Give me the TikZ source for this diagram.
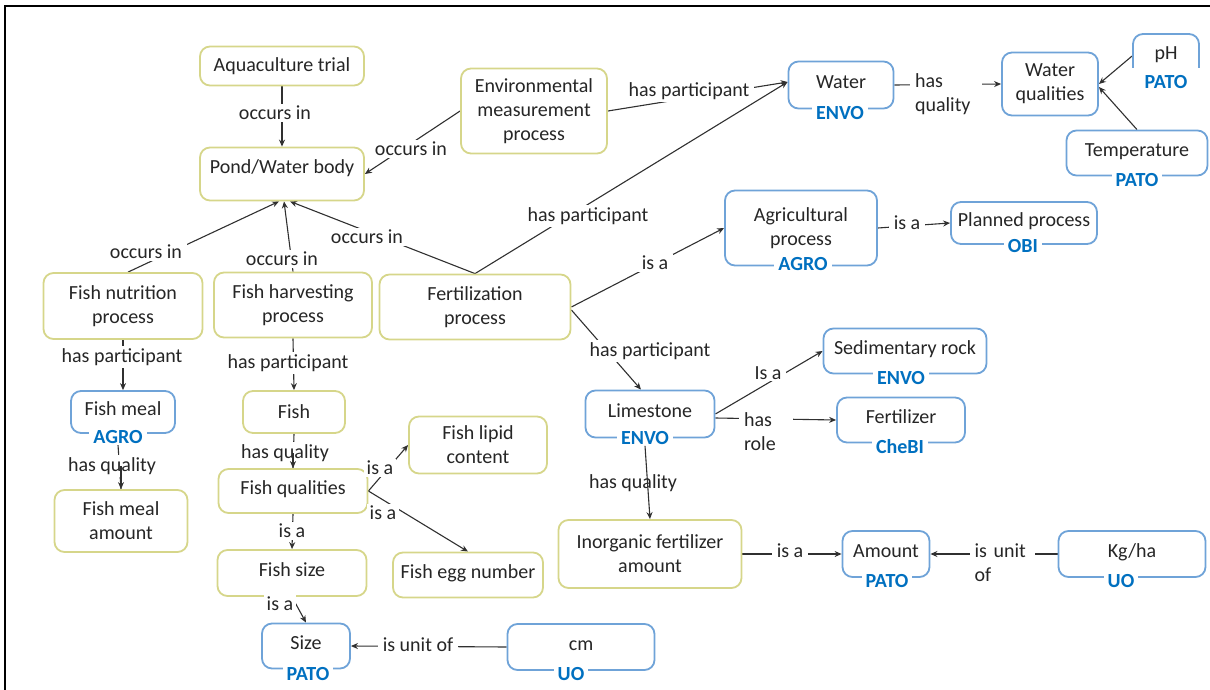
\documentclass[tikz,border=0pt]{standalone}
\usepackage{fontspec}
\setmainfont{Carlito}
\usetikzlibrary{arrows.meta}
\definecolor{boxyellow}{HTML}{D6D68A}
\definecolor{boxblue}{HTML}{6FA3D8}
\definecolor{tagblue}{HTML}{0070C0}
\definecolor{ink}{HTML}{262626}
\definecolor{wire}{HTML}{303030}
\pgfdeclarelayer{background}
\pgfsetlayers{background,main}

\begin{document}
\begin{tikzpicture}[x=1pt,y=-1pt,
  font=\fontsize{20}{24}\selectfont, text=ink,
  conceptbox/.style={draw=boxyellow, line width=1.8pt, rounded corners=10pt,
    fill=white, align=center, inner sep=0pt},
  ontobox/.style={conceptbox, draw=boxblue},
  raised/.style={text height=13pt, text depth=6pt},
  tag/.style={fill=white, text=tagblue, font=\fontsize{20}{24}\selectfont\bfseries,
    inner xsep=4pt, inner ysep=1pt},
  rel/.style={fill=white, inner xsep=5pt, inner ysep=2pt, align=center},
  link/.style={draw=wire, line width=1.1pt},
  arr/.style={link, -{Stealth[length=7pt,width=6pt]}},
]
\useasboundingbox (0,0) rectangle (1210,690);

% frame
\draw[line width=1.6pt] (5,690) -- (5,6) -- (1210,6);

% ---------- concepts ----------
\node[conceptbox, minimum width=164pt, minimum height=39pt] (aq) at (282,66) {Aquaculture trial};
\node[conceptbox, minimum width=164pt, minimum height=53pt, text height=14pt, text depth=16pt] (pond) at (282,174) {Pond/Water body};
\node[conceptbox, minimum width=146pt, minimum height=85pt] (env) at (534,111) {Environmental\\measurement\\process};

\node[ontobox, raised, minimum width=105pt, minimum height=47pt] (water) at (841,85) {Water};
\node[tag] (waterT) at (840,113) {ENVO};
\node[ontobox, minimum width=96pt, minimum height=63pt] (wq) at (1050,84) {Water\\qualities};
\node[ontobox, raised, minimum width=66pt, minimum height=44pt] (ph) at (1166,56) {pH};
\node[tag, minimum width=72pt, minimum height=28pt] (phT) at (1166,82) {PATO};
\node[ontobox, raised, minimum width=141pt, minimum height=45pt] (temp) at (1137,153) {Temperature};
\node[tag] (tempT) at (1137,180) {PATO};

\node[ontobox, minimum width=152pt, minimum height=75pt] (agri) at (801,228) {Agricultural\\process};
\node[tag] (agriT) at (803,264) {AGRO};
\node[ontobox, raised, minimum width=146pt, minimum height=42pt] (planned) at (1024,223) {Planned process};
\node[tag] (plannedT) at (1023,246) {OBI};

\node[conceptbox, minimum width=159pt, minimum height=66pt] (fnp) at (123,306) {Fish nutrition\\process};
\node[conceptbox, minimum width=158pt, minimum height=65pt] (fhp) at (293,305) {Fish harvesting\\process};
\node[conceptbox, minimum width=191pt, minimum height=65pt] (fert) at (475,307) {Fertilization\\process};

\node[ontobox, raised, minimum width=104pt, minimum height=42pt] (fmeal) at (123,412) {Fish meal};
\node[tag] (fmealT) at (118,437) {AGRO};
\node[conceptbox, minimum width=102pt, minimum height=42pt] (fish) at (294,412) {Fish};
\node[conceptbox, minimum width=133pt, minimum height=62pt] (fma) at (121,521) {Fish meal\\amount};
\node[conceptbox, raised, minimum width=149pt, minimum height=44pt] (fq) at (293,491) {Fish qualities};
\node[conceptbox, minimum width=138pt, minimum height=57pt] (flc) at (478,445) {Fish lipid\\content};
\node[conceptbox, raised, minimum width=149pt, minimum height=46pt] (fsize) at (292,573) {Fish size};
\node[conceptbox, raised, minimum width=150pt, minimum height=45pt] (fegg) at (468,575) {Fish egg number};
\node[ontobox, raised, minimum width=88pt, minimum height=45pt] (size) at (306,646) {Size};
\node[tag] (sizeT) at (308,674) {PATO};
\node[ontobox, raised, minimum width=147pt, minimum height=46pt] (cm) at (581,647) {cm};
\node[tag] (cmT) at (571,674) {UO};

\node[ontobox, raised, minimum width=129pt, minimum height=47pt] (lime) at (650,414) {Limestone};
\node[tag] (limeT) at (645,438) {ENVO};
\node[ontobox, raised, minimum width=163pt, minimum height=45pt] (sed) at (905,351) {Sedimentary rock};
\node[tag] (sedT) at (901,378) {ENVO};
\node[ontobox, raised, minimum width=128pt, minimum height=45pt] (fertz) at (901,420) {Fertilizer};
\node[tag] (fertzT) at (900,447) {CheBI};
\node[conceptbox, minimum width=183pt, minimum height=68pt] (ifa) at (650,554) {Inorganic fertilizer\\amount};
\node[ontobox, raised, minimum width=87pt, minimum height=46pt] (amount) at (886,554) {Amount};
\node[tag] (amountT) at (887,581) {PATO};
\node[ontobox, raised, minimum width=147pt, minimum height=46pt] (kgha) at (1132,554) {Kg/ha};
\node[tag] (kghaT) at (1121,581) {UO};

% ---------- relation labels ----------
\node[rel] (r1) at (275,113) {occurs in};
\node[rel] (r2) at (411,149) {occurs in};
\node[rel] (r3) at (689,91) {has participant};
\node[rel] (r4) at (588,216) {has participant};
\node[rel] (r5) at (367,237) {occurs in};
\node[rel] (r6) at (146,252) {occurs in};
\node[rel] (r7) at (282,259) {occurs in};
\node[rel] (r8) at (655,263) {is a};
\node[rel] (r9) at (650,351) {has participant};
\node[rel] (r10) at (907,223) {is a};
\node[rel, align=left, text width=62pt] (r11) at (946,94) {has\\quality};
\node[rel] (r12) at (122,357) {has participant};
\node[rel] (r13) at (288,363) {has participant};
\node[rel] (r14) at (112,466) {has quality};
\node[rel] (r15) at (285,453) {has quality};
\node[rel, inner xsep=3pt] (r16) at (380,468) {is a};
\node[rel, inner xsep=3pt] (r17) at (383,513) {is a};
\node[rel] (r18) at (292,531) {is a};
\node[rel, inner xsep=3pt] (r19) at (280,604) {is a};
\node[rel] (r20) at (418,645) {is unit of};
\node[rel] (r21) at (768,373) {Is a};
\node[rel, align=left, text width=44pt] (r22) at (766,432) {has\\role};
\node[rel] (r23) at (633,483) {has quality};
\node[rel] (r24) at (790,551) {is a};
\node[rel, align=left, text width=55pt] (r25) at (1002,563) {is unit\\of};

% ---------- connectors (behind the labels) ----------
\begin{pgfonlayer}{background}
\draw[arr] (aq) -- (pond);
\draw[arr] (env.west) -- (pond.east);
\draw[arr] (env.east) -- ([yshift=3pt]water.west);
\draw[arr] (fert.north) -- ([yshift=3pt]water.west);
\draw[arr] (fert.north) -- ([xshift=8pt]pond.south);
\draw[arr] ([xshift=5pt]fnp.north) -- ([xshift=-3pt]pond.south);
\draw[arr] (fhp.north) -- ([xshift=2pt]pond.south);
\draw[arr] (fert.east) -- (agri.west);
\draw[arr] ([yshift=-3pt]fert.east) -- ([xshift=-9pt]lime.north);
\draw[arr] (agri.east) -- (planned.west);
\draw[arr] (water.east) -- (wq.west);
\draw[arr] (ph.west) -- (wq.east);
\draw[arr] (temp.north) -- ([yshift=-3pt]wq.east);
\draw[arr] (fnp.south) -- (fmeal.north);
\draw[arr] (fhp.south) -- (fish.north);
\draw[link] (fmealT.south) -- (fma.north);
\draw[link] (fish.south) -- (fq.north);
\draw[arr] (fq.east) -- (flc.west);
\draw[arr] (fq.east) -- (fegg.north);
\draw[arr] (fq.south) -- (fsize.north);
\draw[arr] (fsize.south) -- (size.north);
\draw[arr] (cm.west) -- (size.east);
\draw[arr] (lime.east) -- (sed.west);
\draw[arr] ([yshift=-4pt]lime.east) -- (fertz.west);
\draw[arr] (ifa.east) -- (amount.west);
\draw[arr] (kgha.west) -- (amount.east);
\end{pgfonlayer}

% quality links run across their labels
\draw[arr] (r14.center -| fma.north) -- (fma.north);
\draw[arr] (r15.center -| fq.north) -- (fq.north);
\draw[arr] (limeT.south) -- (ifa.north);
\end{tikzpicture}
\end{document}
